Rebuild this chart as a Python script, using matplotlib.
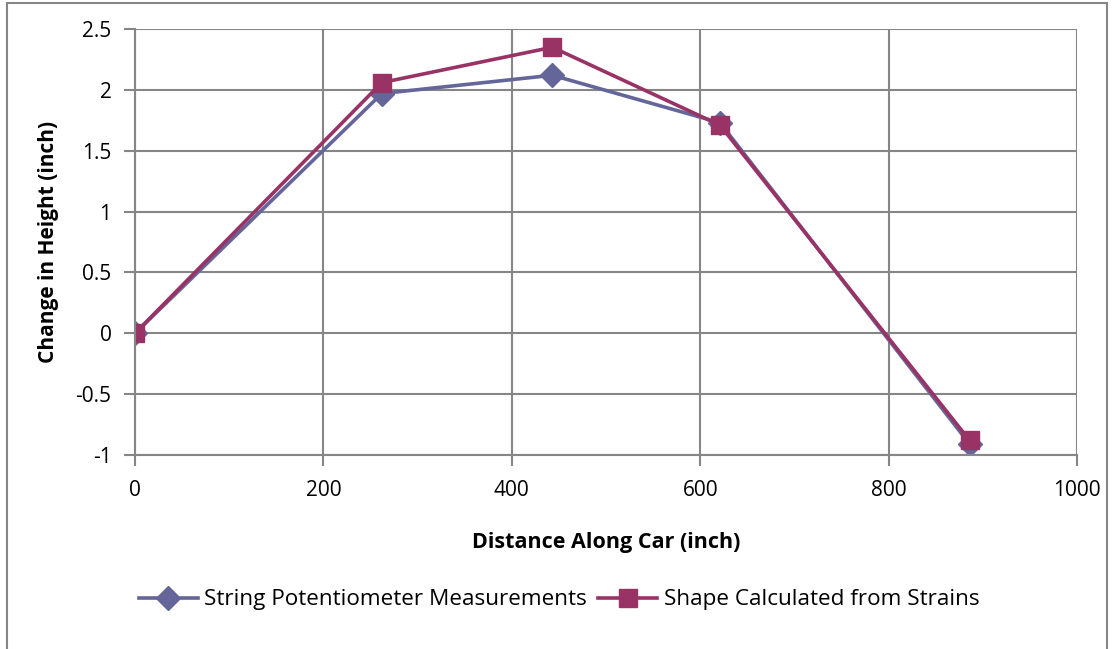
import matplotlib
matplotlib.use('Agg')
import matplotlib.pyplot as plt
from matplotlib.patches import Rectangle

plt.rcParams['font.family'] = ['Open Sans', 'DejaVu Sans']

# distance along the car (inch) and height change (inch)
distance = [0, 262, 443, 621, 886]
string_pot = [0, 1.97, 2.12, 1.73, -0.91]
strain_shape = [0, 2.06, 2.35, 1.71, -0.88]

blue = '#646699'
red = '#993366'
grey = '#868686'

fig = plt.figure(figsize=(11.14, 6.49), dpi=100)
ax = fig.add_axes([0.1212, 0.2989, 0.9668 - 0.1212, 0.9553 - 0.2989])

# outer chart border
fig.patches.append(Rectangle((7 / 1114, -0.01), 1100 / 1114, 1 - 3 / 649 + 0.01,
                             transform=fig.transFigure, fill=False,
                             edgecolor=grey, linewidth=1.5))

ax.plot(distance, string_pot, color=blue, linewidth=2.6, marker='D',
        markersize=12, label='String Potentiometer Measurements')
ax.plot(distance, strain_shape, color=red, linewidth=2.6, marker='s',
        markersize=13.5, label='Shape Calculated from Strains')

ax.set_xlim(0, 1000)
ax.set_ylim(-1, 2.5)
ax.set_xticks([0, 200, 400, 600, 800, 1000])
ax.set_yticks([-1, -0.5, 0, 0.5, 1, 1.5, 2, 2.5])
ax.set_yticklabels(['-1', '-0.5', '0', '0.5', '1', '1.5', '2', '2.5'])
ax.grid(True, color=grey, linewidth=1.5)
ax.set_axisbelow(True)
for s in ['top', 'right']:
    ax.spines[s].set_visible(False)
for s in ['left', 'bottom']:
    ax.spines[s].set_color(grey)
    ax.spines[s].set_linewidth(1.5)
ax.tick_params(direction='out', length=8, width=1.5, color=grey,
               labelsize=15)
ax.tick_params(axis='x', pad=10)
ax.tick_params(axis='y', pad=9)

ax.set_xlabel('Distance Along Car (inch)', fontsize=15.5, fontweight='bold', labelpad=22)
ax.set_ylabel('Change in Height (inch)', fontsize=15, fontweight='bold', labelpad=12)

fig.legend(loc='center', bbox_to_anchor=(0.502, 1 - 600 / 649), ncol=2,
           frameon=False, fontsize=16.2, handlelength=2.6, columnspacing=0.5,
           handletextpad=0.3)

fig.savefig('out.png', dpi=100)
